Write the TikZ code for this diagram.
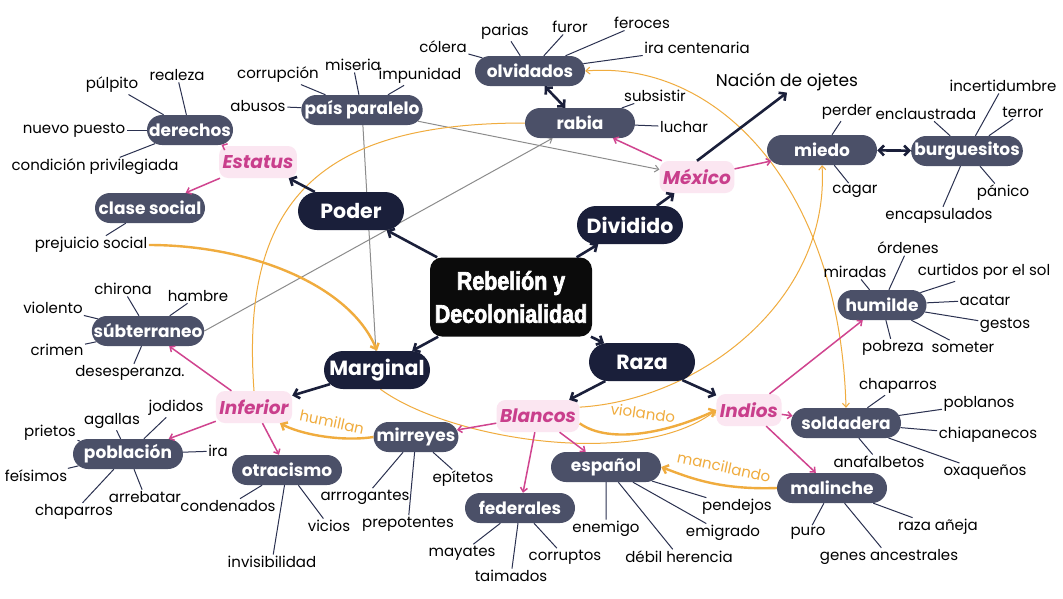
\documentclass[tikz,border=0pt]{standalone}
\usepackage{fontspec}
\setmainfont{Poppins}
\newfontfamily\condfont[FakeStretch=0.84, FakeBold=2.6]{Liberation Sans}
\usetikzlibrary{arrows.meta,shapes.misc,backgrounds}
\definecolor{navy}{HTML}{1A1F3A}
\definecolor{slate}{HTML}{4B5068}
\definecolor{coreblack}{HTML}{0B0B0B}
\definecolor{pinkbg}{HTML}{FBE6F1}
\definecolor{pinktx}{HTML}{C93F8C}
\definecolor{pinkln}{HTML}{D0448F}
\definecolor{orng}{HTML}{F0AC3E}
\definecolor{grayln}{HTML}{8C8C8C}
\definecolor{leafln}{HTML}{2B3150}
\begin{document}
\begin{tikzpicture}[x=1pt,y=-1pt,
  core/.style={rectangle, rounded corners=12pt, fill=coreblack, text=white, minimum width=162pt, minimum height=79pt, align=center, inner sep=0pt, font=\condfont\bfseries\fontsize{25.5}{33}\selectfont},
  hub/.style={rounded rectangle, fill=navy, text=white, font=\bfseries\fontsize{20.5}{22}\selectfont, minimum width=106pt, minimum height=38pt, inner sep=0pt},
  sub/.style={rounded rectangle, fill=slate, text=white, font=\bfseries\fontsize{17}{19}\selectfont, minimum width=110pt, minimum height=30pt, inner sep=0pt},
  tag/.style={rectangle, rounded corners=9pt, fill=pinkbg, text=pinktx, font=\bfseries\itshape\fontsize{18.5}{20}\selectfont, minimum height=32pt, inner xsep=3.5pt, inner ysep=0pt},
  leaf/.style={font=\fontsize{15}{17}\selectfont, inner sep=1.5pt, text=black},
  olab/.style={font=\fontsize{15}{17}\selectfont, text=orng, inner sep=0pt},
  ll/.style={draw=leafln, line width=1pt},
  na/.style={draw=navy, line width=2.6pt, -{Straight Barb[length=5pt,width=10pt]}},
  nda/.style={draw=navy, line width=2.6pt, {Straight Barb[length=5pt,width=10pt]}-{Straight Barb[length=5pt,width=10pt]}},
  pa/.style={draw=pinkln, line width=1.5pt, -{Straight Barb[length=4pt,width=7pt]}},
  ga/.style={draw=grayln, line width=1pt},
  gaa/.style={draw=grayln, line width=1pt, -{Straight Barb[length=4pt,width=7pt]}},
  ot/.style={draw=orng, line width=1pt},
  oth/.style={draw=orng, line width=2.4pt, -{Straight Barb[length=5pt,width=9pt]}}
]
\useasboundingbox (0,0) rectangle (1063,598);

% core and hubs
\node[core] (core) at (511,297) {Rebelión y\\Decolonialidad};
\node[hub] (poder) at (351,211) {Poder};
\node[hub] (dividido) at (630,225) {Dividido};
\node[hub] (marginal) at (377,370) {Marginal};
\node[hub] (raza) at (642,362) {Raza};

% tags
\node[tag] (estatus) at (258,162) {Estatus};
\node[tag] (mexico) at (697,177) {México};
\node[tag] (inferior) at (254,407) {Inferior};
\node[tag] (blancos) at (538,416) {Blancos};
\node[tag] (indios) at (749,410) {Indios};

% sub nodes
\node[sub, minimum width=86pt] (derechos) at (190,130) {derechos};
\node[sub] (clase) at (150,208) {clase social};
\node[sub, minimum width=119pt] (pais) at (362,110) {país paralelo};
\node[sub] (olvidados) at (530,71) {olvidados};
\node[sub] (rabia) at (580,123) {rabia};
\node[sub] (miedo) at (822,150) {miedo};
\node[sub] (burgues) at (967,151) {burguesitos};
\node[sub] (subt) at (148,331) {súbterraneo};
\node[sub] (poblacion) at (128,454) {población};
\node[sub] (otracismo) at (287,470) {otracismo};
\node[sub, minimum width=81pt] (mirreyes) at (416,437) {mirreyes};
\node[sub] (federales) at (520,508) {federales};
\node[sub] (espanol) at (606,467) {español};
\node[sub] (soldadera) at (846,423) {soldadera};
\node[sub] (malinche) at (832,488) {malinche};
\node[sub, minimum width=89pt] (humilde) at (882,305) {humilde};

% free text
\node[leaf, font=\fontsize{17}{19}\selectfont] (nacion) at (787,82) {Nación de ojetes};

% leaves
\node[leaf] (realeza) at (177,75) {realeza};
\node[leaf] (pulpito) at (112,85) {púlpito};
\node[leaf] (nuevo) at (74,130) {nuevo puesto};
\node[leaf] (condicion) at (95,167) {condición privilegiada};
\node[leaf] (prejuicio) at (91,245) {prejuicio social};
\node[leaf] (corrupcion) at (278,75) {corrupción};
\node[leaf] (miseria) at (353,65) {miseria};
\node[leaf] (impunidad) at (420,76) {impunidad};
\node[leaf] (abusos) at (258,106) {abusos};
\node[leaf] (colera) at (443,47) {cólera};
\node[leaf] (parias) at (505,32) {parias};
\node[leaf] (furor) at (570,27) {furor};
\node[leaf] (feroces) at (642,23) {feroces};
\node[leaf] (iracent) at (697,48) {ira centenaria};
\node[leaf] (subsistir) at (655,96) {subsistir};
\node[leaf] (luchar) at (684,127) {luchar};
\node[leaf] (perder) at (847,112) {perder};
\node[leaf] (cagar) at (855,191) {cagar};
\node[leaf] (enclaustrada) at (926,114) {enclaustrada};
\node[leaf] (incert) at (1003,86) {incertidumbre};
\node[leaf] (terror) at (1023,112) {terror};
\node[leaf] (panico) at (1003,193) {pánico};
\node[leaf] (encaps) at (939,216) {encapsulados};
\node[leaf] (chirona) at (123,289) {chirona};
\node[leaf] (hambre) at (198,296) {hambre};
\node[leaf] (violento) at (53,308) {violento};
\node[leaf] (crimen) at (57,350) {crimen};
\node[leaf] (desesp) at (130,373) {desesperanza.};
\node[leaf] (prietos) at (50,433) {prietos};
\node[leaf] (agallas) at (112,421) {agallas};
\node[leaf] (jodidos) at (176,408) {jodidos};
\node[leaf] (ira) at (218,451) {ira};
\node[leaf] (feisimos) at (36,476) {feísimos};
\node[leaf] (chapA) at (74,512) {chaparros};
\node[leaf] (arrebatar) at (145,497) {arrebatar};
\node[leaf] (condenados) at (228,506) {condenados};
\node[leaf] (vicios) at (329,526) {vicios};
\node[leaf] (invis) at (272,562) {invisibilidad};
\node[leaf] (arrog) at (365,497) {arrrogantes};
\node[leaf] (prepot) at (408,524) {prepotentes};
\node[leaf] (epitetos) at (463,479) {epítetos};
\node[leaf] (mayates) at (462,553) {mayates};
\node[leaf] (taimados) at (511,576) {taimados};
\node[leaf] (corruptos) at (565,557) {corruptos};
\node[leaf] (enemigo) at (606,529) {enemigo};
\node[leaf] (debil) at (679,557) {débil herencia};
\node[leaf] (emigrado) at (723,533) {emigrado};
\node[leaf] (pendejos) at (737,507) {pendejos};
\node[leaf] (puro) at (808,533) {puro};
\node[leaf] (genes) at (889,557) {genes ancestrales};
\node[leaf] (razaa) at (938,527) {raza añeja};
\node[leaf] (chapB) at (898,386) {chaparros};
\node[leaf] (poblanos) at (979,404) {poblanos};
\node[leaf] (chiapa) at (988,435) {chiapanecos};
\node[leaf] (oaxa) at (985,472) {oxaqueños};
\node[leaf] (anafal) at (879,462) {anafalbetos};
\node[leaf] (ordenes) at (908,248) {órdenes};
\node[leaf] (miradas) at (855,272) {miradas};
\node[leaf] (curtidos) at (984,272) {curtidos por el sol};
\node[leaf] (acatar) at (985,300) {acatar};
\node[leaf] (gestos) at (1005,325) {gestos};
\node[leaf] (pobreza) at (893,348) {pobreza};
\node[leaf] (someter) at (963,347) {someter};

% orange labels
\node[olab, rotate=-12] (lhum) at (332,422) {humillan};
\node[olab, rotate=-8] (lvio) at (643,413) {violando};
\node[olab, rotate=-12] (lman) at (724,467) {mancillando};

\begin{scope}[on background layer]
\fill[white] (0,0) rectangle (1063,598);
% leaf lines
\foreach \a/\b in {derechos/realeza, derechos/pulpito, derechos/nuevo, derechos/condicion,
  clase/prejuicio, pais/corrupcion, pais/miseria, pais/impunidad, pais/abusos,
  olvidados/colera, olvidados/parias, olvidados/furor, olvidados/feroces, olvidados/iracent,
  rabia/subsistir, rabia/luchar, miedo/perder, miedo/cagar,
  burgues/enclaustrada, burgues/incert, burgues/terror, burgues/panico, burgues/encaps,
  subt/chirona, subt/hambre, subt/violento, subt/crimen, subt/desesp,
  poblacion/prietos, poblacion/agallas, poblacion/jodidos, poblacion/ira, poblacion/feisimos, poblacion/chapA, poblacion/arrebatar,
  otracismo/condenados, otracismo/vicios, otracismo/invis,
  mirreyes/arrog, mirreyes/prepot, mirreyes/epitetos,
  federales/mayates, federales/taimados, federales/corruptos,
  espanol/enemigo, espanol/debil, espanol/emigrado, espanol/pendejos,
  malinche/puro, malinche/genes, malinche/razaa,
  soldadera/chapB, soldadera/poblanos, soldadera/chiapa, soldadera/oaxa, soldadera/anafal,
  humilde/ordenes, humilde/miradas, humilde/curtidos, humilde/acatar, humilde/gestos, humilde/pobreza, humilde/someter}
  {\draw[ll] (\a) -- (\b);}

% gray lines
\draw[gaa] (pais) -- (mexico);
\draw[ga] (pais) -- (marginal);
\draw[gaa] (subt.east) -- (rabia);

% thin orange curves
\draw[ot] (rabia.west) .. controls (320,123) and (240,200) .. (inferior.north);
\draw[ot, {Straight Barb[length=4pt,width=7pt]}-{Straight Barb[length=4pt,width=7pt]}] (olvidados.east) .. controls (720,60) and (840,190) .. (soldadera.north);
\draw[ot, -{Straight Barb[length=4pt,width=7pt]}] (blancos.12) .. controls (700,400) and (830,300) .. (miedo.south);
\draw[ot, -{Straight Barb[length=4pt,width=7pt]}] (marginal.-80) .. controls (450,440) and (640,470) .. (indios.west);
\end{scope}

% thick orange arrows
\draw[oth] (prejuicio.east) .. controls (250,245) and (350,285) .. (marginal.north);
\draw[oth] (mirreyes.west) .. controls (340,442) and (300,434) .. (inferior.-32);
\draw[oth] (blancos.-10) .. controls (610,445) and (670,432) .. (indios.west);
\draw[oth] (malinche.west) .. controls (720,490) and (690,478) .. (espanol.east);

% navy arrows
\draw[na] (core) -- (poder);
\draw[na] (core) -- (dividido);
\draw[na] (core) -- (marginal);
\draw[na] (core) -- (raza);
\draw[na] (poder) -- (estatus);
\draw[na] (dividido) -- (mexico);
\draw[na] (marginal) -- (inferior);
\draw[na] (raza) -- (blancos);
\draw[na] (raza) -- (indios);
\draw[na] (mexico.north) -- (nacion.south);
\draw[nda] (olvidados) -- (rabia);
\draw[nda] (miedo) -- (burgues);

% pink arrows
\draw[pa] (estatus) -- (derechos);
\draw[pa] (estatus) -- (clase);
\draw[pa] (mexico) -- (rabia);
\draw[pa] (mexico) -- (miedo);
\draw[pa] (inferior) -- (subt);
\draw[pa] (inferior) -- (poblacion);
\draw[pa] (inferior) -- (otracismo);
\draw[pa] (blancos) -- (mirreyes);
\draw[pa] (blancos) -- (federales);
\draw[pa] (blancos) -- (espanol);
\draw[pa] (indios) -- (soldadera);
\draw[pa] (indios) -- (humilde);
\draw[pa] (indios) -- (malinche);
\end{tikzpicture}
\end{document}
